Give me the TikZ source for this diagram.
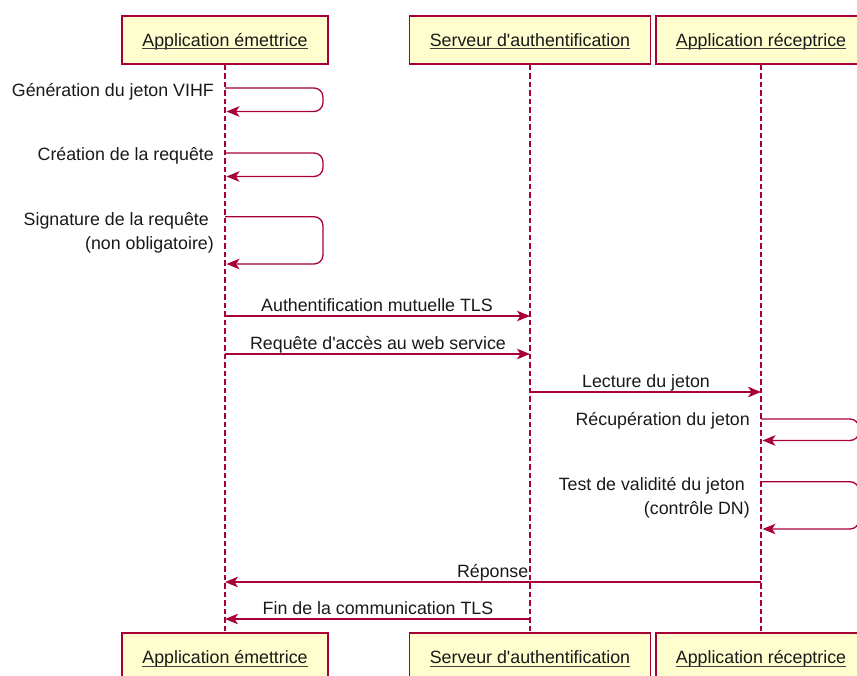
\documentclass[tikz,border=0pt]{standalone}
\usepackage{fontspec}
\setmainfont{Liberation Sans}[Ligatures=TeXOff]
\usetikzlibrary{arrows.meta}
\definecolor{plborder}{HTML}{A80036}
\definecolor{plfill}{HTML}{FEFECE}
\begin{document}
\begin{tikzpicture}[x=1pt,y=-1pt,
  every node/.style={font=\fontsize{17.8}{24}\selectfont, inner sep=0pt, text=black!90},
  partbox/.style={draw=plborder, fill=plfill, line width=1.6pt, minimum height=48pt},
  uline/.style={draw=black!75, line width=1pt},
  life/.style={draw=plborder, line width=1.3pt, dash pattern=on 5.5pt off 3pt},
  msg/.style={draw=plborder, line width=1.3pt, -{Stealth[length=13pt, width=10.5pt, inset=3.5pt]}},
  selfmsg/.style={msg, rounded corners=9pt},
  lbl/.style={anchor=base},
  slbl/.style={anchor=base east}
]
\useasboundingbox (0,0) rectangle (857,675);

% participant boxes (top)
\node[partbox, minimum width=206pt] (p1t) at (225,40) {};
\node[partbox, minimum width=241pt] (p2t) at (530,40) {};
\node[partbox, minimum width=210pt] (p3t) at (761,40) {};
% participant boxes (bottom)
\node[partbox, minimum width=206pt] (p1b) at (225,657) {};
\node[partbox, minimum width=241pt] (p2b) at (530,657) {};
\node[partbox, minimum width=210pt] (p3b) at (761,657) {};

% participant names
\node[lbl] (n1t) at (225,46) {Application émettrice};
\node[lbl] (n2t) at (530,46) {Serveur d'authentification};
\node[lbl] (n3t) at (761,46) {Application réceptrice};
\node[lbl] (n1b) at (225,663.5) {Application émettrice};
\node[lbl] (n2b) at (530,663.5) {Serveur d'authentification};
\node[lbl] (n3b) at (761,663.5) {Application réceptrice};
\foreach \n in {n1t,n2t,n3t,n1b,n2b,n3b}{
  \draw[uline] ([yshift=-2.6pt]\n.base west) -- ([yshift=-2.6pt]\n.base east);
}

% lifelines
\draw[life] (p1t.south) -- (p1b.north);
\draw[life] (p2t.south) -- (p2b.north);
\draw[life] (p3t.south) -- (p3b.north);

% self messages on Application emettrice
\draw[selfmsg] (p1t.south |- 0,88) -- ++(98,0) -- ++(0,23.5) -- ([xshift=1.5pt]p1t.south |- 0,111.5);
\node[slbl] (s1) at (214,96) {Génération du jeton VIHF};

\draw[selfmsg] (p1t.south |- 0,153) -- ++(98,0) -- ++(0,23.5) -- ([xshift=1.5pt]p1t.south |- 0,176.5);
\node[slbl] (s2) at (214,160.5) {Création de la requête};

\draw[selfmsg] (p1t.south |- 0,216.7) -- ++(98,0) -- ++(0,47.3) -- ([xshift=1.5pt]p1t.south |- 0,264);
\node[slbl] (s3a) at (214,225) {Signature de la requête\hspace*{5pt}};
\node[slbl] (s3b) at (214,249) {(non obligatoire)};

% messages emettrice -> serveur
\draw[msg] (p1t.south |- 0,316) -- (p2t.south |- 0,316);
\node[lbl] (m4) at (377,311.5) {Authentification mutuelle TLS};
\draw[msg] (p1t.south |- 0,354) -- (p2t.south |- 0,354);
\node[lbl] (m5) at (378,349.5) {Requête d'accès au web service};

% serveur -> receptrice
\draw[msg] (p2t.south |- 0,392) -- (p3t.south |- 0,392);
\node[lbl] (m6) at (646,387.5) {Lecture du jeton};

% self messages on Application receptrice
\draw[selfmsg] (p3t.south |- 0,419) -- ++(98,0) -- ++(0,21.5) -- ([xshift=1.5pt]p3t.south |- 0,440.5);
\node[slbl] (s7) at (750,425.5) {Récupération du jeton};

\draw[selfmsg] (p3t.south |- 0,481.7) -- ++(98,0) -- ++(0,47.3) -- ([xshift=1.5pt]p3t.south |- 0,529);
\node[slbl] (s8a) at (750,490) {Test de validité du jeton\hspace*{5pt}};
\node[slbl] (s8b) at (750,514) {(contrôle DN)};

% responses
\draw[msg] (p3t.south |- 0,582) -- (p1t.south |- 0,582);
\node[slbl] (m9) at (528.5,577.5) {Réponse};
\draw[msg] (p2t.south |- 0,619) -- (p1t.south |- 0,619);
\node[lbl] (m10) at (378,614.5) {Fin de la communication TLS};
\end{tikzpicture}
\end{document}
